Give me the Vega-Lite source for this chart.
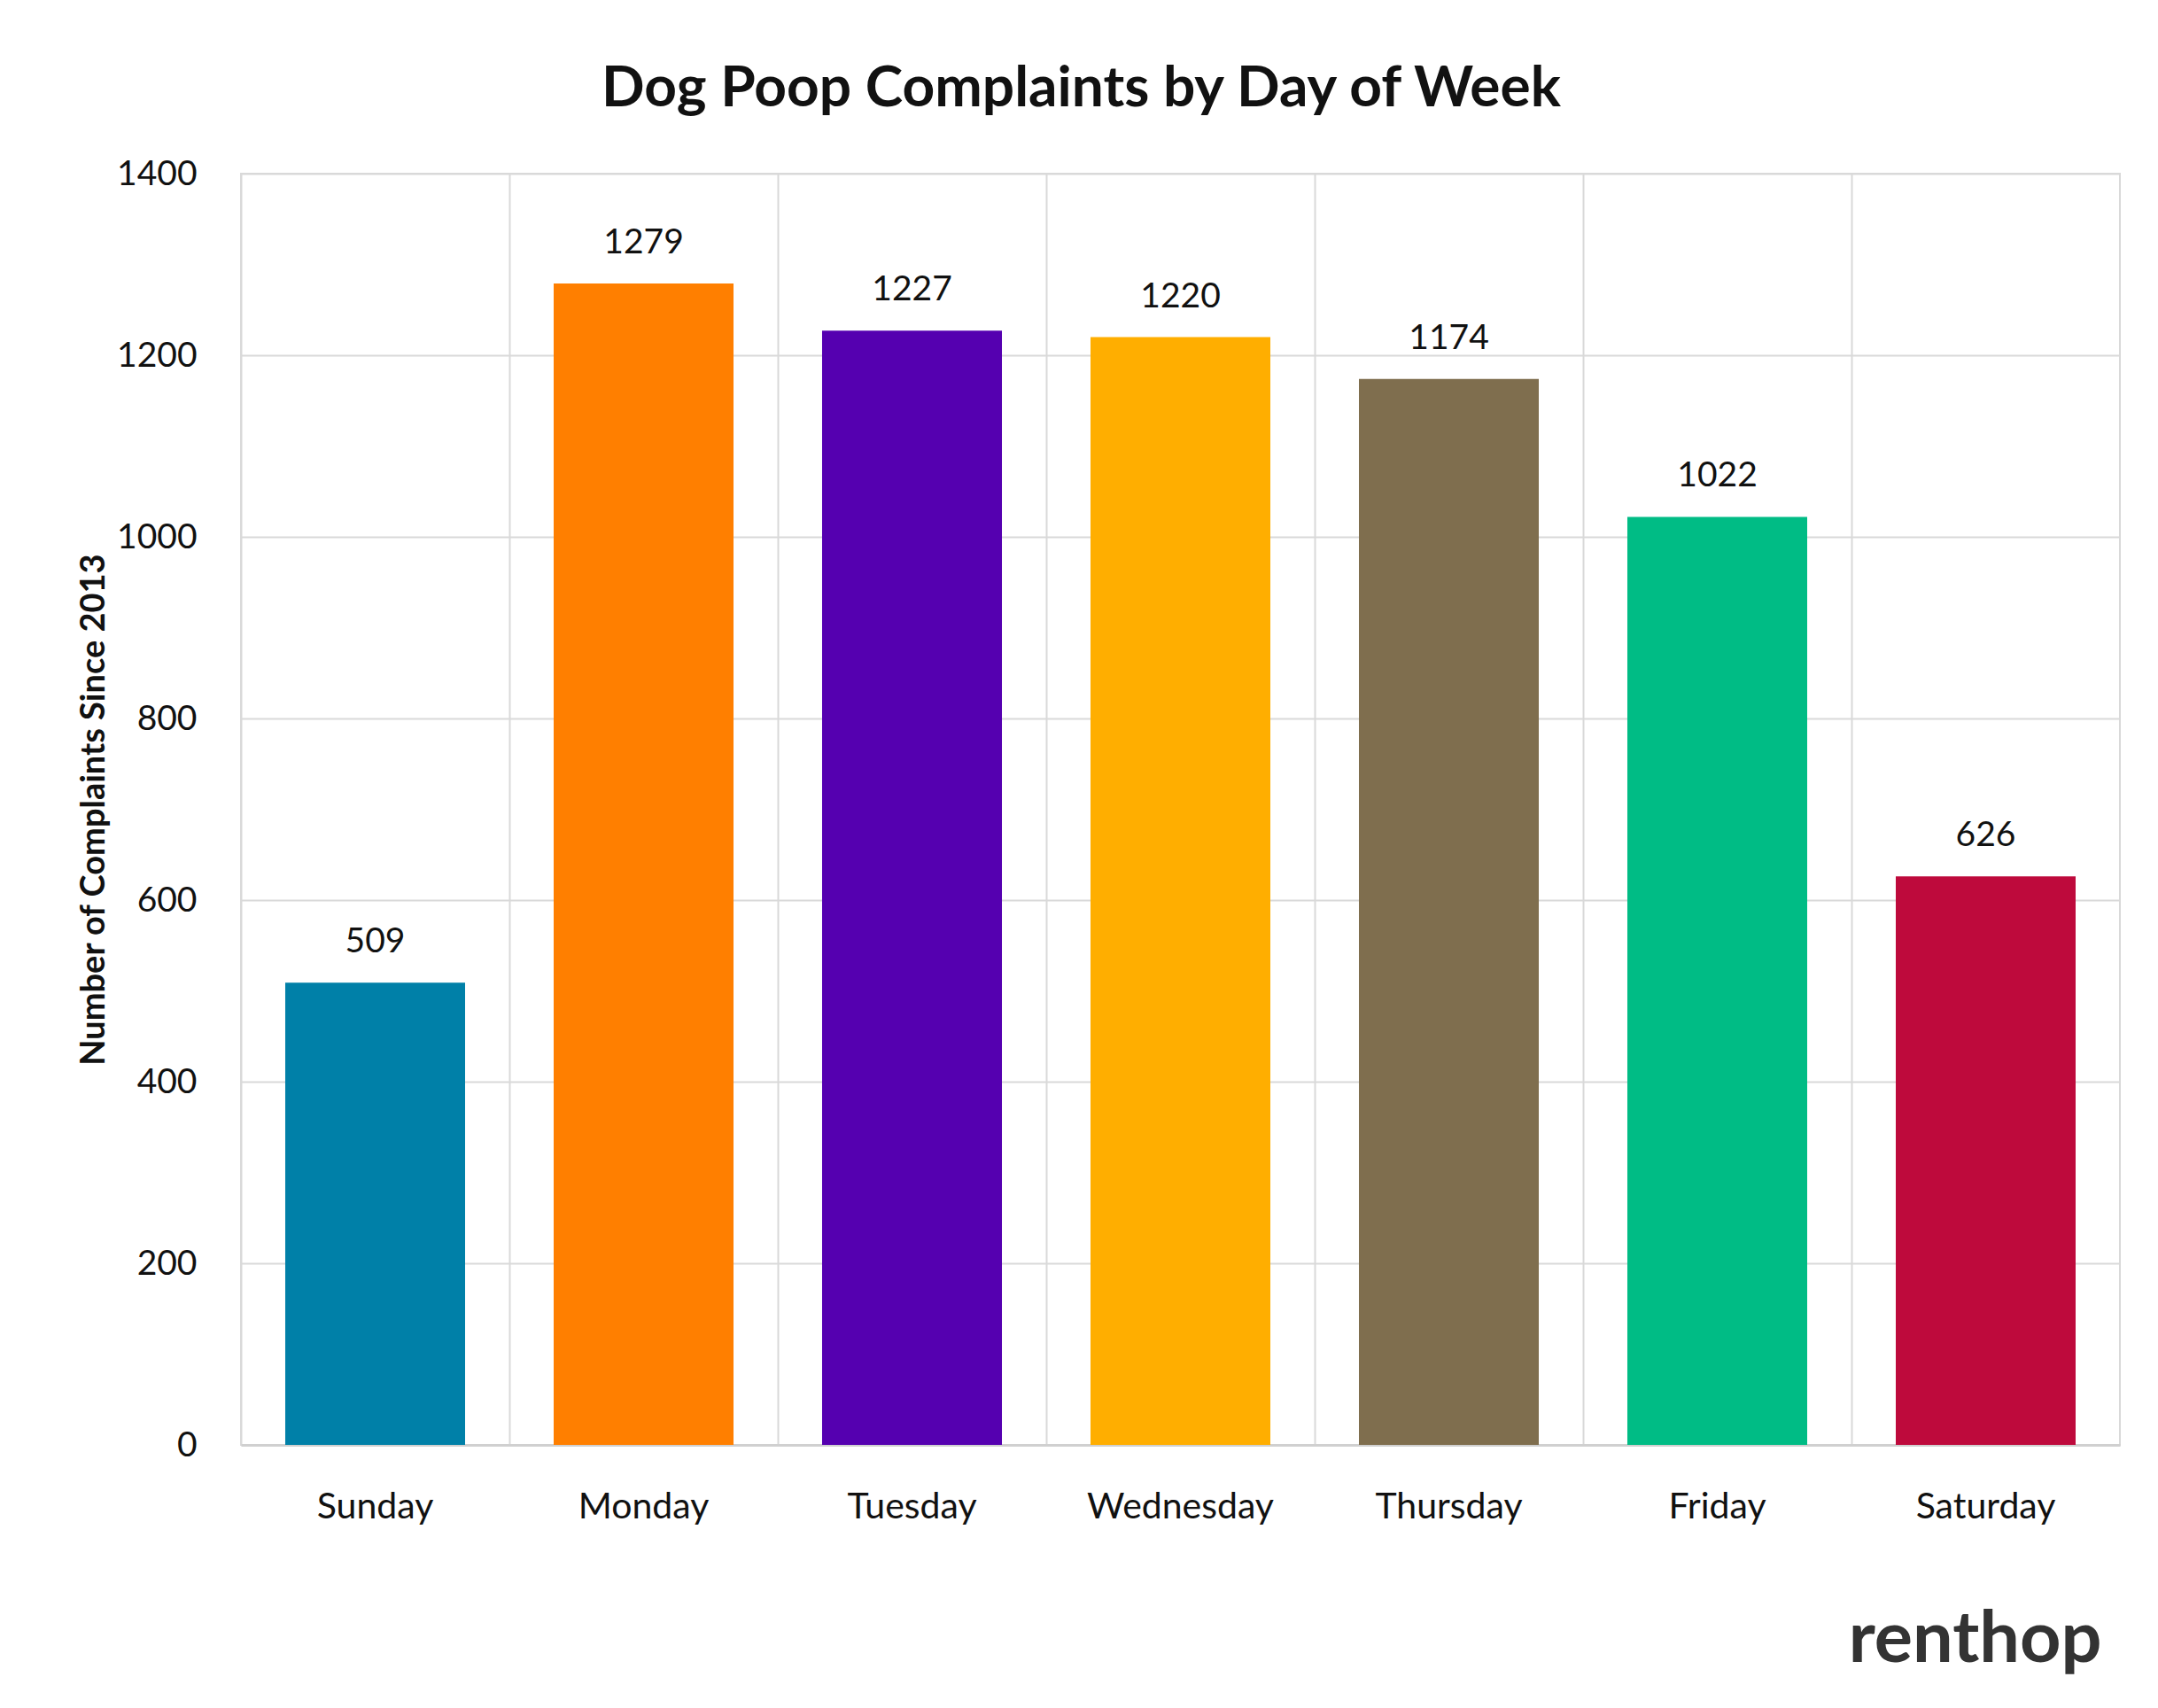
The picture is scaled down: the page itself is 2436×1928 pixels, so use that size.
{
  "$schema": "https://vega.github.io/schema/vega-lite/v6.json",
  "autosize": {"type": "none"},
  "width": 2121,
  "height": 1435,
  "padding": {"left": 272, "top": 196, "right": 43, "bottom": 297},
  "background": "white",
  "config": {
    "font": "Lato",
    "view": {"stroke": "#d9d9d9", "strokeWidth": 2}
  },
  "title": {
    "text": "Dog Poop Complaints by Day of Week",
    "font": "Lato",
    "fontSize": 64,
    "fontWeight": "bold",
    "color": "#111111",
    "anchor": "middle",
    "dx": -112,
    "offset": 44
  },
  "data": {
    "values": [
      {"day": "Sunday", "count": 509},
      {"day": "Monday", "count": 1279},
      {"day": "Tuesday", "count": 1227},
      {"day": "Wednesday", "count": 1220},
      {"day": "Thursday", "count": 1174},
      {"day": "Friday", "count": 1022},
      {"day": "Saturday", "count": 626}
    ]
  },
  "encoding": {
    "x": {
      "field": "day",
      "type": "nominal",
      "sort": null,
      "scale": {"paddingInner": 0, "paddingOuter": 0},
      "axis": {
        "title": "renthop",
        "titleFont": "Lato",
        "titleFontSize": 81,
        "titleFontWeight": "bold",
        "titleColor": "#333333",
        "titleAnchor": "end",
        "titleAlign": "right",
        "titleX": 2100,
        "titlePadding": 90,
        "labelAngle": 0,
        "labelFontSize": 41,
        "labelLimit": 0,
        "labelColor": "#111111",
        "labelPadding": 50,
        "ticks": false,
        "grid": true,
        "bandPosition": 0,
        "gridColor": "#d9d9d9",
        "gridWidth": 2,
        "domainColor": "#d0d0d0",
        "domainWidth": 3
      }
    }
  },
  "layer": [
    {
      "mark": {"type": "bar", "width": {"band": 0.67}},
      "encoding": {
        "y": {
          "field": "count",
          "type": "quantitative",
          "scale": {"domain": [0, 1400], "nice": false},
          "axis": {
            "values": [0, 200, 400, 600, 800, 1000, 1200, 1400],
            "format": "d",
            "title": "Number of Complaints Since 2013",
            "titleFontSize": 38,
            "titleFontWeight": "bold",
            "titleColor": "#111111",
            "titlePadding": 6,
            "labelFontSize": 39,
            "labelColor": "#111111",
            "labelPadding": 50,
            "ticks": false,
            "domain": false,
            "grid": true,
            "gridColor": "#d9d9d9",
            "gridWidth": 2
          }
        },
        "color": {
          "field": "day",
          "type": "nominal",
          "legend": null,
          "scale": {
            "domain": ["Sunday", "Monday", "Tuesday", "Wednesday", "Thursday", "Friday", "Saturday"],
            "range": ["#0080A8", "#FF7F00", "#5500B0", "#FFAE00", "#7F6E4E", "#00BC85", "#BE0A3C"]
          }
        }
      }
    },
    {
      "mark": {"type": "text", "baseline": "bottom", "dy": -26, "fontSize": 39, "color": "#111111"},
      "encoding": {
        "y": {"field": "count", "type": "quantitative"},
        "text": {"field": "count", "type": "quantitative"}
      }
    }
  ]
}
